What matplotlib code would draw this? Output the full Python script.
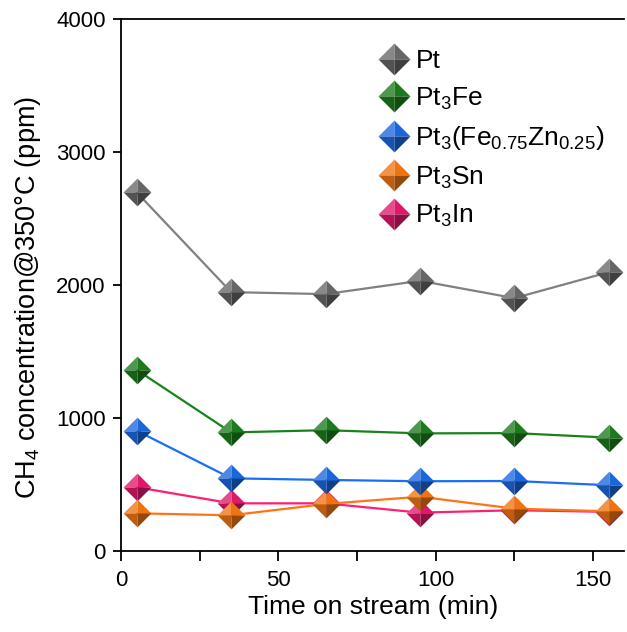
import numpy as np
import matplotlib.pyplot as plt
from matplotlib.path import Path
from matplotlib.colors import to_rgb

plt.rcParams['font.family'] = ['Liberation Sans', 'DejaVu Sans']
plt.rcParams['mathtext.fontset'] = 'custom'
plt.rcParams['mathtext.rm'] = 'Liberation Sans'
plt.rcParams['mathtext.it'] = 'Liberation Sans'

# CH4 produced over time on stream, one series per catalyst
time = [5, 35, 65, 95, 125, 155]
pt = [2700, 1950, 1935, 2035, 1905, 2100]
pt3fe = [1365, 895, 912, 888, 890, 856]
pt3fezn = [908, 550, 538, 528, 530, 498]
pt3sn = [287, 272, 357, 412, 322, 302]
pt3in = [483, 362, 362, 292, 310, 298]

labels = ['Pt', 'Pt$_3$Fe', 'Pt$_3$(Fe$_{0.75}$Zn$_{0.25}$)', 'Pt$_3$Sn', 'Pt$_3$In']
series = [pt, pt3fe, pt3fezn, pt3sn, pt3in]
line_colors = ['#808080', '#1a821a', '#1a6ef5', '#ff7412', '#ff1f72']
marker_colors = ['#666666', '#1c7a1c', '#1a66dd', '#ee7411', '#e0186a']

# four triangular faces of a pyramid-shaped diamond marker
faces = [
    Path([(0, 0), (-1, 0), (0, 1), (0, 0)], closed=True),   # top-left
    Path([(0, 0), (0, 1), (1, 0), (0, 0)], closed=True),    # top-right
    Path([(0, 0), (-1, 0), (0, -1), (0, 0)], closed=True),  # bottom-left
    Path([(0, 0), (0, -1), (1, 0), (0, 0)], closed=True),   # bottom-right
]
shade = [1.22, 1.0, 0.8, 0.62]


def tint(c, k):
    r = np.array(to_rgb(c))
    if k >= 1:
        return tuple(r + (1 - r) * (k - 1))
    return tuple(r * k)


fig = plt.figure(figsize=(6.27, 6.32), dpi=100)
ax = fig.add_axes([0.193, 0.1274, 0.803, 0.8418])

handles = []
n = len(series)
for i in range(n - 1, -1, -1):
    z = 2 + (n - i) * 2
    ax.plot(time, series[i], color=line_colors[i], lw=1.6, zorder=z)
    parts = []
    for f, k in zip(faces, shade):
        h, = ax.plot(time, series[i], ls='none', marker=f, markersize=20,
                     markerfacecolor=tint(marker_colors[i], k),
                     markeredgewidth=0, zorder=z + 1)
        parts.append(h)
    handles.insert(0, tuple(parts))

ax.set_xlim(0, 160)
ax.set_ylim(0, 4000)
ax.set_xticks([0, 50, 100, 150])
ax.set_xticks([25, 75, 125], minor=True)
ax.set_yticks([0, 1000, 2000, 3000, 4000])
ax.tick_params(axis='both', which='both', direction='out', labelsize=16,
               width=1.3, colors='black')
ax.tick_params(axis='x', which='both', length=7, pad=6)
ax.tick_params(axis='y', which='both', length=6, pad=5)
ax.spines['right'].set_visible(False)
for s in ['left', 'bottom', 'top']:
    ax.spines[s].set_linewidth(1.3)

ax.set_xlabel('Time on stream (min)', fontsize=19, labelpad=3)
ax.set_ylabel('CH$_4$ concentration@350°C (ppm)', fontsize=19.5)
ax.yaxis.set_label_coords(-0.155, 0.478)

ax.legend(handles, labels, loc='upper left', bbox_to_anchor=(0.57, 0.96),
          bbox_transform=fig.transFigure, frameon=False, fontsize=19,
          handlelength=1.0, handletextpad=0.3, labelspacing=0.47,
          markerscale=1.15)

fig.savefig('out.png', dpi=100)
